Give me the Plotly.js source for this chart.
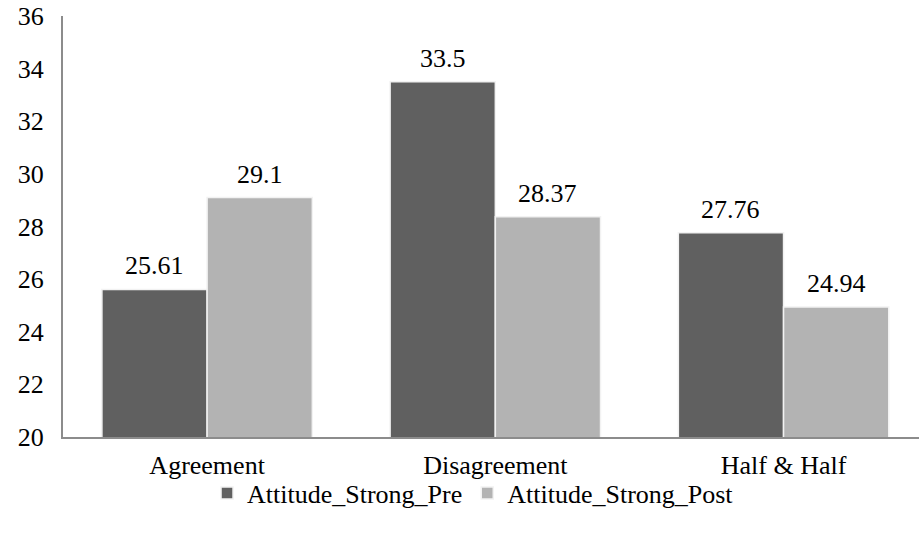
<!DOCTYPE html>
<html>
<head>
<meta charset="utf-8">
<script src="https://cdn.plot.ly/plotly-3.0.1.min.js"></script>
<style>
  html, body { margin: 0; padding: 0; background: #fff; }
  #chart { width: 919px; height: 541px; }
</style>
</head>
<body>
<div id="chart"></div>
<script>
// Attitude scores (strong) before and after, by discussion condition
const categories = ['Agreement', 'Disagreement', 'Half & Half'];
const preValues = [25.61, 33.5, 27.76];
const postValues = [29.1, 28.37, 24.94];
const seriesNames = ['Attitude_Strong_Pre', 'Attitude_Strong_Post'];
const yTicks = [20, 22, 24, 26, 28, 30, 32, 34, 36];

const serif = 'Liberation Serif, Times New Roman, serif';
const fs = 26;
const barGap = 0.27;
const half = (1 - barGap) / 4; // centre offset of each bar within its group

const traces = [
  {
    type: 'bar', name: seriesNames[0], x: categories, y: preValues,
    marker: { color: '#606060', line: { color: '#f2f2f2', width: 1.5 } }
  },
  {
    type: 'bar', name: seriesNames[1], x: categories, y: postValues,
    marker: { color: '#b3b3b3', line: { color: '#f2f2f2', width: 1.5 } }
  }
];

// value labels above each bar
const annotations = [];
[preValues, postValues].forEach((vals, s) => {
  vals.forEach((v, i) => {
    annotations.push({
      x: i + (s === 0 ? -half : half), y: v, xref: 'x', yref: 'y',
      text: String(v), showarrow: false, yanchor: 'bottom', yshift: 7,
      font: { family: serif, size: fs, color: '#000' }
    });
  });
});

const layout = {
  width: 919, height: 541,
  margin: { l: 63, r: 0, t: 16, b: 104 },
  paper_bgcolor: '#fff', plot_bgcolor: '#fff',
  barmode: 'group', bargap: barGap, bargroupgap: 0,
  font: { family: serif, size: fs, color: '#000' },
  showlegend: true,
  legend: {
    orientation: 'h', x: 0.479, xanchor: 'center', y: -0.133, yanchor: 'middle',
    bgcolor: 'rgba(0,0,0,0)', itemwidth: 30,
    font: { family: serif, size: fs, color: '#000' }, itemclick: false
  },
  xaxis: {
    type: 'category', range: [-0.5, 2.47],
    showline: true, linecolor: '#8c8c8c', linewidth: 2,
    showgrid: false, ticks: '', ticklabelstandoff: 4,
    tickfont: { family: serif, size: fs, color: '#000' }
  },
  yaxis: {
    range: [20, 36], tickvals: yTicks, ticktext: yTicks.map(String),
    showline: true, linecolor: '#8c8c8c', linewidth: 2,
    showgrid: false, zeroline: false, ticks: '', ticklabelstandoff: 12,
    tickfont: { family: serif, size: fs, color: '#000' }
  },
  annotations: annotations
};

Plotly.newPlot('chart', traces, layout, { displayModeBar: false, staticPlot: true });
</script>
</body>
</html>
